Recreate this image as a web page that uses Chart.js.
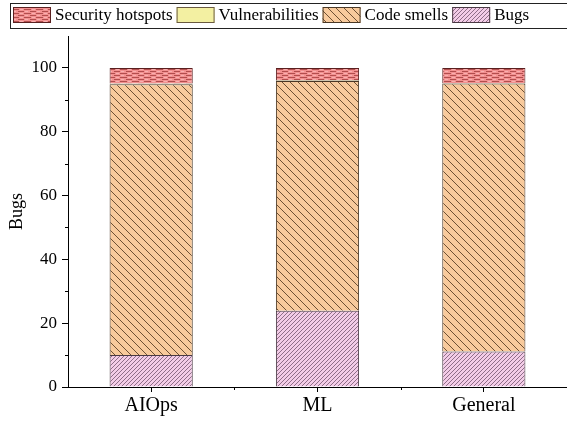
<!DOCTYPE html>
<html><head><meta charset="utf-8">
<script src="https://cdn.jsdelivr.net/npm/chart.js@4/dist/chart.umd.min.js"></script>
<style>html,body{margin:0;padding:0;background:#fff}#wrap{width:567px;height:423px}</style>
</head><body><div id="wrap"><canvas id="c" width="567" height="423"></canvas></div>
<script>
const categories = ['AIOps', 'ML', 'General'];
const bugs = [10.0, 23.9, 11.1];
const codeSmells = [84.9, 72.0, 84.0];
const vulnerabilities = [0.2, 0.2, 0.2];
const securityHotspots = [4.9, 3.9, 4.7];
const yLabelTicks = [0, 20, 40, 60, 80, 100];
const legendOrder = ['Security hotspots', 'Vulnerabilities', 'Code smells', 'Bugs'];

const FONT = '"Liberation Serif", "Times New Roman", Times, serif';
const canvas = document.getElementById('c');
const ctx = canvas.getContext('2d');

function tile(w, h, draw) {
  const c = document.createElement('canvas'); c.width = w; c.height = h;
  draw(c.getContext('2d'), w, h);
  return ctx.createPattern(c, 'repeat');
}
function diag(bg, line, size, dir, lw) {
  return tile(size, size, (x, s) => {
    x.fillStyle = bg; x.fillRect(0, 0, s, s);
    x.strokeStyle = line; x.lineWidth = lw; x.beginPath();
    if (dir === '/') {
      x.moveTo(-1, s + 1); x.lineTo(s + 1, -1);
      x.moveTo(-1, 1); x.lineTo(1, -1);
      x.moveTo(s - 1, s + 1); x.lineTo(s + 1, s - 1);
    } else {
      x.moveTo(-1, -1); x.lineTo(s + 1, s + 1);
      x.moveTo(s - 1, -1); x.lineTo(s + 1, 1);
      x.moveTo(-1, s - 1); x.lineTo(1, s + 1);
    }
    x.stroke();
  });
}
const bugsPat = diag('#F3CCE7', '#8E6E88', 4, '/', 1);
const smellPat = diag('#F8CA9C', '#6E5034', 8, '\\', 1);
const brickPat = tile(12, 4, (x, w, h) => {
  x.fillStyle = '#F29090'; x.fillRect(0, 0, w, h);
  x.fillStyle = '#B24E4E';
  x.fillRect(0, 1, 7, 1);
  x.fillRect(6, 3, 6, 1);
  x.fillStyle = '#F7B0B0';
  x.fillRect(8, 1, 3, 1);
  x.fillRect(1, 3, 3, 1);
});
const vulnColor = '#F3F0A2';

const minorTicks = {
  id: 'minorTicks',
  afterDraw(chart) {
    const c = chart.ctx, y = chart.scales.y, xs = chart.scales.x, a = chart.chartArea;
    c.save(); c.strokeStyle = '#000'; c.lineWidth = 1; c.beginPath();
    for (let v = 10; v <= 90; v += 20) {
      const py = Math.round(y.getPixelForValue(v)) + 0.5;
      c.moveTo(a.left - 3, py); c.lineTo(a.left, py);
    }
    const n = categories.length;
    for (let i = 0; i < n; i++) {
      const xr = i < n - 1 ? (xs.getPixelForValue(i) + xs.getPixelForValue(i + 1)) / 2 : a.right - 0.5;
      const px = Math.round(xr) + 0.5;
      c.moveTo(px, a.bottom); c.lineTo(px, a.bottom + 3);
    }
    c.stroke(); c.restore();
  }
};

const boxLegend = {
  id: 'boxLegend',
  afterDraw(chart) {
    const c = chart.ctx;
    c.save();
    c.strokeStyle = '#222'; c.lineWidth = 1;
    c.strokeRect(10.5, 3.5, 600, 25);
    c.font = '17px ' + FONT; c.fillStyle = '#000'; c.textBaseline = 'middle';
    let x = 13;
    legendOrder.forEach(name => {
      const ds = chart.data.datasets.find(d => d.label === name);
      c.fillStyle = ds.backgroundColor;
      c.fillRect(x, 7, 38, 16);
      c.strokeStyle = ds.borderColor; c.strokeRect(x + 0.5, 7.5, 37, 15);
      x += 42;
      c.fillStyle = '#000';
      c.fillText(name, x, 16);
      x += c.measureText(name).width + 4;
    });
    c.restore();
  }
};

new Chart(ctx, {
  type: 'bar',
  data: {
    labels: categories,
    datasets: [
      { label: 'Bugs', data: bugs, backgroundColor: bugsPat, borderColor: '#4a3a44', borderWidth: 1 },
      { label: 'Code smells', data: codeSmells, backgroundColor: smellPat, borderColor: '#4a3826', borderWidth: 1 },
      { label: 'Vulnerabilities', data: vulnerabilities, backgroundColor: vulnColor, borderColor: '#6a5a40', borderWidth: 1 },
      { label: 'Security hotspots', data: securityHotspots, backgroundColor: brickPat, borderColor: '#5a2020', borderWidth: 1 }
    ]
  },
  options: {
    responsive: false,
    animation: false,
    devicePixelRatio: 1,
    layout: { padding: { top: 36, left: 0, right: 0, bottom: 0 } },
    datasets: { bar: { categoryPercentage: 1.0, barPercentage: 0.5 } },
    plugins: { legend: { display: false }, tooltip: { enabled: false } },
    scales: {
      x: {
        stacked: true,
        offset: true,
        border: { display: true, color: '#000', width: 1 },
        grid: { display: true, drawOnChartArea: false, offset: false, tickLength: 5, tickColor: '#000' },
        ticks: { color: '#000', font: { family: FONT, size: 20 }, padding: 2, maxRotation: 0 },
        afterFit(s) { s.height = 36; }
      },
      y: {
        stacked: true,
        min: 0, max: 110,
        border: { display: true, color: '#000', width: 1 },
        grid: {
          display: true, drawOnChartArea: false, tickLength: 6,
          tickColor: c => (c.tick && yLabelTicks.includes(c.tick.value)) ? '#000' : 'rgba(0,0,0,0)'
        },
        ticks: {
          stepSize: 10, autoSkip: false, color: '#000', font: { family: FONT, size: 17 }, padding: 5,
          callback: v => yLabelTicks.includes(v) ? String(v) : ''
        },
        title: { display: true, text: 'Bugs', color: '#000', font: { family: FONT, size: 18 }, padding: { top: 6, bottom: 0 } },
        afterFit(s) { s.width = 68; }
      }
    }
  },
  plugins: [minorTicks, boxLegend]
});
</script>
</body></html>
